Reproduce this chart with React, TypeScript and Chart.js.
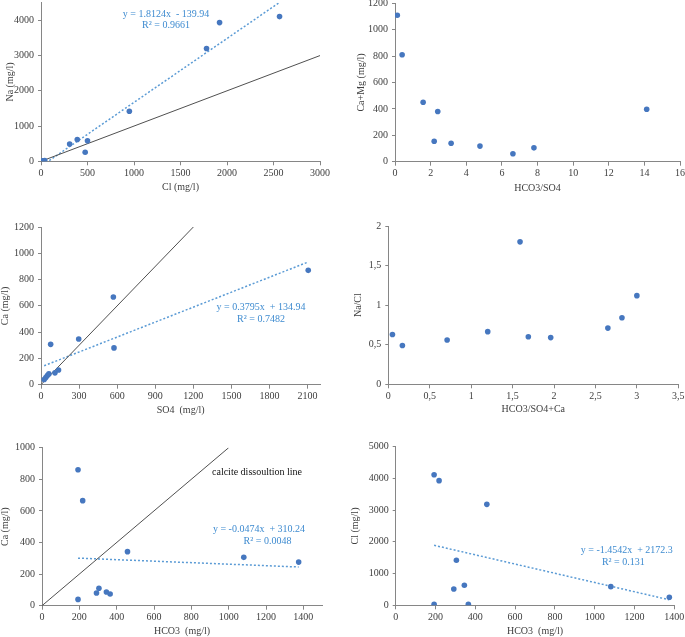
import React, { useEffect, useRef } from "react";
import { Chart, registerables } from "chart.js";

Chart.register(...registerables);

// ---------- Data ----------
// Panel 1: Na vs Cl
const clP1 = [18, 40, 308, 390, 475, 500, 950, 1780, 1920, 2565];
const naP1 = [15, 20, 490, 620, 255, 585, 1420, 3200, 3935, 4105];
const naClSlope = 1.8124;
const naClIntercept = -139.94;
const naClR2 = "0.9661";
const naClRefLine = [0, 3000];

// Panel 2: Ca+Mg vs HCO3/SO4
const hco3So4P2 = [0.13, 0.4, 1.58, 2.2, 2.4, 3.15, 4.77, 6.62, 7.8, 14.13];
const caMgP2 = [1110, 810, 450, 155, 380, 140, 118, 60, 105, 397];

// Panel 3: Ca vs SO4
const so4P3 = [25, 38, 50, 62, 76, 110, 138, 297, 570, 575, 2105];
const caP3 = [40, 55, 70, 82, 307, 90, 112, 348, 667, 280, 870];
const caSo4Slope = 0.3795;
const caSo4Intercept = 134.94;
const caSo4R2 = "0.7482";
const caSo4RefLine = [0, 1200];

// Panel 4: Na/Cl vs HCO3/SO4+Ca
const ratioXP4 = [0.05, 0.17, 0.71, 1.2, 1.59, 1.69, 1.96, 2.65, 2.82, 3.0];
const naClRatioP4 = [0.63, 0.49, 0.56, 0.665, 1.8, 0.6, 0.59, 0.71, 0.84, 1.12];

// Panel 5 & 6: HCO3 shared
const hco3 = [193, 218, 193, 292, 305, 345, 365, 458, 1081, 1375];
const caP5 = [860, 665, 40, 80, 110, 87, 74, 342, 306, 276];
const caHco3Slope = -0.0474;
const caHco3Intercept = 310.24;
const caHco3R2 = "0.0048";
const calciteLine = [0, 1000];
const calciteLabel = "calcite dissoultion line";

const clP6 = [4118, 3930, 30, 515, 1418, 630, 30, 3183, 588, 252];
const clHco3Slope = -1.4542;
const clHco3Intercept = 2172.3;
const clHco3R2 = "0.131";

// ---------- Styles ----------
const FONT = "'Liberation Serif', 'Times New Roman', serif";
const TEXT = "#404040";
const AXIS = "#868686";
const POINT = "#4677BF";
const TREND = "#5B9BD5";
const EQ = "#3E8BD0";

function eqText(slope: number, intercept: number) {
  const sign = intercept < 0 ? "-" : "+";
  return `y = ${slope}x  ${sign} ${Math.abs(intercept)}`;
}

type Note = { text: string; x: number; y: number; color: string; size?: number };

type PanelCfg = {
  plot: { left: number; top: number; right: number; bottom: number };
  yTitleX: number;
  xTitleY: number;
  xs: number[];
  ys: number[];
  xMax: number;
  xStep: number;
  yMax: number;
  yStep: number;
  xTitle: string;
  yTitle: string;
  comma?: boolean;
  trend?: { slope: number; intercept: number };
  refLine?: number[];
  notes: Note[];
};

const panels: PanelCfg[] = [
  {
    plot: { left: 41, top: 2.7, right: 320, bottom: 161.3 },
    yTitleX: 10,
    xTitleY: 187,
    xs: clP1,
    ys: naP1,
    xMax: 3000,
    xStep: 500,
    yMax: 4500,
    yStep: 1000,
    xTitle: "Cl (mg/l)",
    yTitle: "Na (mg/l)",
    trend: { slope: naClSlope, intercept: naClIntercept },
    refLine: naClRefLine,
    notes: [
      { text: eqText(naClSlope, naClIntercept), x: 166, y: 14, color: EQ },
      { text: `R² = ${naClR2}`, x: 166, y: 25.5, color: EQ },
    ],
  },
  {
    plot: { left: 395, top: 3.3, right: 680, bottom: 161.7 },
    yTitleX: 361.5,
    xTitleY: 188,
    xs: hco3So4P2,
    ys: caMgP2,
    xMax: 16,
    xStep: 2,
    yMax: 1200,
    yStep: 200,
    xTitle: "HCO3/SO4",
    yTitle: "Ca+Mg (mg/l)",
    notes: [],
  },
  {
    plot: { left: 41, top: 227, right: 320.3, bottom: 384.7 },
    yTitleX: 5,
    xTitleY: 410,
    xs: so4P3,
    ys: caP3,
    xMax: 2200,
    xStep: 300,
    yMax: 1200,
    yStep: 200,
    xTitle: "SO4  (mg/l)",
    yTitle: "Ca (mg/l)",
    trend: { slope: caSo4Slope, intercept: caSo4Intercept },
    refLine: caSo4RefLine,
    notes: [
      { text: eqText(caSo4Slope, caSo4Intercept), x: 261, y: 307.7, color: EQ },
      { text: `R² = ${caSo4R2}`, x: 261, y: 319, color: EQ },
    ],
  },
  {
    plot: { left: 388.3, top: 226, right: 678.3, bottom: 384.3 },
    yTitleX: 358,
    xTitleY: 409,
    xs: ratioXP4,
    ys: naClRatioP4,
    xMax: 3.5,
    xStep: 0.5,
    yMax: 2,
    yStep: 0.5,
    xTitle: "HCO3/SO4+Ca",
    yTitle: "Na/Cl",
    comma: true,
    notes: [],
  },
  {
    plot: { left: 42, top: 447.7, right: 322, bottom: 605.7 },
    yTitleX: 5,
    xTitleY: 631.5,
    xs: hco3,
    ys: caP5,
    xMax: 1500,
    xStep: 200,
    yMax: 1000,
    yStep: 200,
    xTitle: "HCO3  (mg/l)",
    yTitle: "Ca (mg/l)",
    trend: { slope: caHco3Slope, intercept: caHco3Intercept },
    refLine: calciteLine,
    notes: [
      { text: calciteLabel, x: 257, y: 472.7, color: "#111111" },
      { text: eqText(caHco3Slope, caHco3Intercept), x: 259, y: 529.3, color: EQ },
      { text: `R² = ${caHco3R2}`, x: 267.5, y: 541.7, color: EQ },
    ],
  },
  {
    plot: { left: 395.7, top: 446.7, right: 674.3, bottom: 605.3 },
    yTitleX: 355,
    xTitleY: 631.5,
    xs: hco3,
    ys: clP6,
    xMax: 1400,
    xStep: 200,
    yMax: 5000,
    yStep: 1000,
    xTitle: "HCO3  (mg/l)",
    yTitle: "Cl (mg/l)",
    trend: { slope: clHco3Slope, intercept: clHco3Intercept },
    notes: [
      { text: eqText(clHco3Slope, clHco3Intercept), x: 626.8, y: 550.7, color: EQ },
      { text: `R² = ${clHco3R2}`, x: 623.3, y: 562, color: EQ },
    ],
  },
];

function geom(p: PanelCfg) {
  const cl = Math.round(p.yTitleX - 6);
  const ct = Math.round(p.plot.top - 15);
  const cr = Math.round(p.plot.right + 20);
  const cb = Math.round(p.xTitleY + 6);
  return { cl, ct, cw: cr - cl, ch: cb - ct };
}

function stepTicks(max: number, step: number) {
  const out: { value: number }[] = [];
  for (let i = 0; i * step <= max + 1e-9; i++) out.push({ value: Math.round(i * step * 1000) / 1000 });
  return out;
}

const notesPlugin = {
  id: "notes",
  afterDatasetsDraw(chart: any, _args: any, opts: any) {
    const { ctx } = chart;
    const items: Note[] = opts.items || [];
    ctx.save();
    ctx.textAlign = "center";
    ctx.textBaseline = "middle";
    for (const it of items) {
      ctx.fillStyle = it.color;
      ctx.font = `${it.size || 10}px ${FONT}`;
      ctx.fillText(it.text, it.x - opts.ox, it.y - opts.oy);
    }
    ctx.restore();
  },
};

function buildChart(canvas: HTMLCanvasElement, p: PanelCfg) {
  const g = geom(p);
  const yW = p.plot.left - g.cl;
  const xH = g.ct + g.ch - p.plot.bottom;
  const yTitlePad = p.yTitleX - 6 - g.cl;
  const xTitlePad = g.ct + g.ch - 6 - p.xTitleY;
  const fmt = (v: any) => {
    const s = String(v);
    return p.comma ? s.replace(".", ",") : s;
  };
  const datasets: any[] = [
    {
      type: "scatter",
      data: p.xs.map((x, i) => ({ x, y: p.ys[i] })),
      backgroundColor: POINT,
      borderWidth: 0,
      pointRadius: 2.8,
      order: 0,
    },
  ];
  if (p.trend) {
    const x0 = Math.min(...p.xs);
    const x1 = Math.max(...p.xs);
    datasets.push({
      type: "line",
      data: [x0, x1].map((x) => ({ x, y: p.trend!.slope * x + p.trend!.intercept })),
      borderColor: TREND,
      borderWidth: 1.5,
      borderDash: [2, 2],
      pointRadius: 0,
      fill: false,
      order: 2,
    });
  }
  if (p.refLine) {
    datasets.push({
      type: "line",
      data: p.refLine.map((v) => ({ x: v, y: v })),
      borderColor: "#505050",
      borderWidth: 1,
      pointRadius: 0,
      fill: false,
      order: 1,
    });
  }
  const tickFont = { family: FONT, size: 10 };
  return new Chart(canvas, {
    type: "scatter",
    data: { datasets },
    options: {
      animation: false,
      responsive: false,
      devicePixelRatio: 1,
      layout: {
        padding: { left: 0, top: p.plot.top - g.ct, right: g.cl + g.cw - p.plot.right, bottom: 0 },
      },
      plugins: {
        legend: { display: false },
        tooltip: { enabled: false },
        notes: { items: p.notes, ox: g.cl, oy: g.ct },
      } as any,
      scales: {
        x: {
          type: "linear",
          position: "bottom",
          min: 0,
          max: p.xMax,
          afterBuildTicks: (s: any) => {
            s.ticks = stepTicks(p.xMax, p.xStep);
          },
          afterFit: (s: any) => {
            s.height = xH;
          },
          ticks: {
            color: TEXT,
            font: tickFont,
            padding: 2,
            maxRotation: 0,
            autoSkip: false,
            callback: fmt,
          },
          grid: { display: true, drawOnChartArea: false, drawTicks: true, tickLength: 4, color: AXIS },
          border: { display: true, color: AXIS, width: 1 },
          title: {
            display: true,
            text: p.xTitle,
            color: TEXT,
            font: { family: FONT, size: 10 },
            padding: { top: 0, bottom: xTitlePad },
          },
        },
        y: {
          type: "linear",
          position: "left",
          min: 0,
          max: p.yMax,
          afterBuildTicks: (s: any) => {
            s.ticks = stepTicks(p.yMax, p.yStep);
          },
          afterFit: (s: any) => {
            s.width = yW;
          },
          ticks: {
            color: TEXT,
            font: tickFont,
            padding: 4,
            autoSkip: false,
            callback: fmt,
          },
          grid: { display: true, drawOnChartArea: false, drawTicks: true, tickLength: 3, color: AXIS },
          border: { display: true, color: AXIS, width: 1 },
          title: {
            display: true,
            text: p.yTitle,
            color: TEXT,
            font: { family: FONT, size: 10 },
            padding: { top: yTitlePad, bottom: 0 },
          },
        },
      },
    } as any,
    plugins: [notesPlugin],
  });
}

export default function App() {
  const refs = useRef<(HTMLCanvasElement | null)[]>([]);
  useEffect(() => {
    const charts = panels.map((p, i) => buildChart(refs.current[i]!, p));
    return () => charts.forEach((c) => c.destroy());
  }, []);
  return (
    <div
      style={{
        position: "absolute",
        left: 0,
        top: 0,
        width: 685,
        height: 637,
        overflow: "hidden",
        background: "#ffffff",
      }}
    >
      {panels.map((p, i) => {
        const g = geom(p);
        return (
          <canvas
            key={i}
            ref={(el) => {
              refs.current[i] = el;
            }}
            width={g.cw}
            height={g.ch}
            style={{ position: "absolute", left: g.cl, top: g.ct, width: g.cw, height: g.ch }}
          />
        );
      })}
    </div>
  );
}
